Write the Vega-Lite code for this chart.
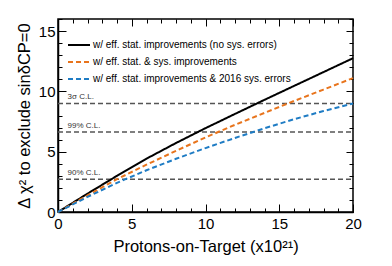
{
  "$schema": "https://vega.github.io/schema/vega-lite/v6.json",
  "width": 295,
  "height": 193,
  "autosize": "none",
  "padding": {"left": 58, "top": 19, "right": 39, "bottom": 54},
  "background": "white",
  "config": {
    "font": "Liberation Sans",
    "view": {"stroke": "black", "strokeWidth": 1.5},
    "axis": {
      "grid": false,
      "domainColor": "black",
      "domainWidth": 1.5,
      "tickColor": "black",
      "tickWidth": 1,
      "labelColor": "black",
      "labelFont": "Liberation Sans",
      "labelFontSize": 15,
      "titleFont": "Liberation Sans",
      "titleFontSize": 16.5,
      "titleFontWeight": "normal",
      "titleColor": "black"
    }
  },
  "datasets": {
    "curves": [
      {"pot": 0, "chi2": 0, "series": "w/ eff. stat. improvements (no sys. errors)"},
      {"pot": 2, "chi2": 1.52, "series": "w/ eff. stat. improvements (no sys. errors)"},
      {"pot": 4, "chi2": 3.0, "series": "w/ eff. stat. improvements (no sys. errors)"},
      {"pot": 6, "chi2": 4.42, "series": "w/ eff. stat. improvements (no sys. errors)"},
      {"pot": 8, "chi2": 5.72, "series": "w/ eff. stat. improvements (no sys. errors)"},
      {"pot": 10, "chi2": 6.95, "series": "w/ eff. stat. improvements (no sys. errors)"},
      {"pot": 12, "chi2": 8.13, "series": "w/ eff. stat. improvements (no sys. errors)"},
      {"pot": 14, "chi2": 9.3, "series": "w/ eff. stat. improvements (no sys. errors)"},
      {"pot": 16, "chi2": 10.45, "series": "w/ eff. stat. improvements (no sys. errors)"},
      {"pot": 18, "chi2": 11.6, "series": "w/ eff. stat. improvements (no sys. errors)"},
      {"pot": 20, "chi2": 12.75, "series": "w/ eff. stat. improvements (no sys. errors)"},
      {"pot": 0, "chi2": 0, "series": "w/ eff. stat. & sys. improvements"},
      {"pot": 2, "chi2": 1.38, "series": "w/ eff. stat. & sys. improvements"},
      {"pot": 4, "chi2": 2.72, "series": "w/ eff. stat. & sys. improvements"},
      {"pot": 6, "chi2": 3.92, "series": "w/ eff. stat. & sys. improvements"},
      {"pot": 8, "chi2": 5.07, "series": "w/ eff. stat. & sys. improvements"},
      {"pot": 10, "chi2": 6.18, "series": "w/ eff. stat. & sys. improvements"},
      {"pot": 12, "chi2": 7.23, "series": "w/ eff. stat. & sys. improvements"},
      {"pot": 14, "chi2": 8.22, "series": "w/ eff. stat. & sys. improvements"},
      {"pot": 16, "chi2": 9.2, "series": "w/ eff. stat. & sys. improvements"},
      {"pot": 18, "chi2": 10.15, "series": "w/ eff. stat. & sys. improvements"},
      {"pot": 20, "chi2": 11.1, "series": "w/ eff. stat. & sys. improvements"},
      {"pot": 0, "chi2": 0, "series": "w/ eff. stat. improvements & 2016 sys. errors"},
      {"pot": 2, "chi2": 1.25, "series": "w/ eff. stat. improvements & 2016 sys. errors"},
      {"pot": 4, "chi2": 2.42, "series": "w/ eff. stat. improvements & 2016 sys. errors"},
      {"pot": 6, "chi2": 3.46, "series": "w/ eff. stat. improvements & 2016 sys. errors"},
      {"pot": 8, "chi2": 4.41, "series": "w/ eff. stat. improvements & 2016 sys. errors"},
      {"pot": 10, "chi2": 5.3, "series": "w/ eff. stat. improvements & 2016 sys. errors"},
      {"pot": 12, "chi2": 6.14, "series": "w/ eff. stat. improvements & 2016 sys. errors"},
      {"pot": 14, "chi2": 6.94, "series": "w/ eff. stat. improvements & 2016 sys. errors"},
      {"pot": 16, "chi2": 7.69, "series": "w/ eff. stat. improvements & 2016 sys. errors"},
      {"pot": 18, "chi2": 8.37, "series": "w/ eff. stat. improvements & 2016 sys. errors"},
      {"pot": 20, "chi2": 9.0, "series": "w/ eff. stat. improvements & 2016 sys. errors"}
    ],
    "cl": [
      {"level": 9.0, "label": "3σ C.L."},
      {"level": 6.63, "label": "99% C.L."},
      {"level": 2.71, "label": "90% C.L."}
    ]
  },
  "resolve": {"axis": {"x": "independent", "y": "independent"}},
  "layer": [
    {
      "data": {"name": "cl"},
      "mark": {"type": "rule", "color": "#555555", "strokeDash": [5, 3], "strokeWidth": 1.5},
      "encoding": {
        "x": {"datum": 0, "type": "quantitative", "scale": {"domain": [0, 20], "nice": false, "zero": false},
          "axis": {"orient": "top", "title": null, "labels": false, "domain": false, "values": [0,5,10,15,20], "tickSize": -7}},
        "x2": {"datum": 20},
        "y": {"field": "level", "type": "quantitative", "scale": {"domain": [0, 16], "nice": false, "zero": false},
          "axis": {"orient": "right", "title": null, "labels": false, "domain": false, "values": [0,5,10,15], "tickSize": -7}}
      }
    },
    {
      "data": {"name": "cl"},
      "mark": {"type": "text", "align": "left", "baseline": "bottom", "dy": -2, "fontSize": 8, "color": "#333333", "font": "Liberation Sans"},
      "encoding": {
        "x": {"datum": 0.65, "type": "quantitative",
          "axis": {"orient": "top", "title": null, "labels": false, "domain": false, "values": [0,1,2,3,4,5,6,7,8,9,10,11,12,13,14,15,16,17,18,19,20], "tickSize": -4}},
        "y": {"field": "level", "type": "quantitative",
          "axis": {"orient": "right", "title": null, "labels": false, "domain": false, "values": [0,1,2,3,4,5,6,7,8,9,10,11,12,13,14,15,16], "tickSize": -4}},
        "text": {"field": "label"}
      }
    },
    {
      "data": {"name": "cl"},
      "mark": {"type": "text", "opacity": 0},
      "encoding": {
        "x": {"datum": 0.65, "type": "quantitative",
          "axis": {"orient": "bottom", "title": null, "labels": false, "domain": false, "values": [0,1,2,3,4,5,6,7,8,9,10,11,12,13,14,15,16,17,18,19,20], "tickSize": -4}},
        "y": {"field": "level", "type": "quantitative",
          "axis": {"orient": "left", "title": null, "labels": false, "domain": false, "values": [0,1,2,3,4,5,6,7,8,9,10,11,12,13,14,15,16], "tickSize": -4}},
        "text": {"field": "label"}
      }
    },
    {
      "data": {"name": "curves"},
      "mark": {"type": "line", "strokeWidth": 2},
      "encoding": {
        "x": {"field": "pot", "type": "quantitative",
          "axis": {"orient": "bottom", "title": "Protons-on-Target (x10²¹)", "titlePadding": 7,
            "values": [0,5,10,15,20], "labelPadding": 12, "labelFlush": false, "tickSize": -8}},
        "y": {"field": "chi2", "type": "quantitative",
          "axis": {"orient": "left", "title": "Δ χ² to exclude sinδCP=0", "titlePadding": 6,
            "values": [0,5,10,15], "labelPadding": 11, "labelFlush": false, "tickSize": -8}},
        "color": {"field": "series", "type": "nominal",
          "scale": {"domain": ["w/ eff. stat. improvements (no sys. errors)", "w/ eff. stat. & sys. improvements", "w/ eff. stat. improvements & 2016 sys. errors"],
            "range": ["#000000", "#e8741c", "#1f7cc4"]},
          "legend": {"orient": "none", "legendX": 9, "legendY": 14, "title": null, "symbolType": "stroke", "symbolSize": 484, "labelLimit": 400,
            "symbolStrokeWidth": 2, "labelFontSize": 10, "labelFont": "Liberation Sans", "labelColor": "black", "rowPadding": 0, "padding": 0, "labelOffset": 2}},
        "strokeDash": {"field": "series", "type": "nominal",
          "scale": {"domain": ["w/ eff. stat. improvements (no sys. errors)", "w/ eff. stat. & sys. improvements", "w/ eff. stat. improvements & 2016 sys. errors"],
            "range": [[1, 0], [5, 3], [5, 3]]},
          "legend": {"orient": "none", "legendX": 9, "legendY": 14, "title": null, "symbolType": "stroke", "symbolSize": 484, "labelLimit": 400,
            "symbolStrokeWidth": 2, "labelFontSize": 10, "labelFont": "Liberation Sans", "labelColor": "black", "rowPadding": 0, "padding": 0, "labelOffset": 2}}
      }
    }
  ]
}
